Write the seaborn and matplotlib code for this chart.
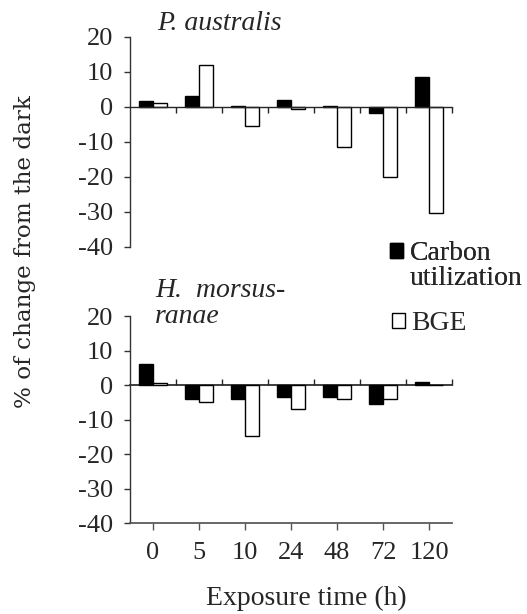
import matplotlib
matplotlib.use("Agg")
import matplotlib.pyplot as plt
import seaborn as sns
import pandas as pd
from matplotlib.patches import Patch

sns.set_theme(style="ticks")
plt.rcParams['font.family'] = ['Liberation Serif', 'DejaVu Serif']
plt.rcParams['axes.unicode_minus'] = False

times = ["0", "5", "10", "24", "48", "72", "120"]
series = ["Carbon utilization", "BGE"]
p_carbon = [1.5, 3.0, 0.2, 2.0, 0.2, -1.7, 8.5]
p_bge = [1.0, 12.0, -5.5, -0.7, -11.5, -20.0, -30.5]
h_carbon = [6.0, -4.0, -4.0, -3.5, -3.5, -5.5, 1.0]
h_bge = [0.7, -5.0, -14.8, -7.0, -4.0, -4.0, 0.0]
yticks = [20, 10, 0, -10, -20, -30, -40]

def frame(carbon, bge):
    return pd.DataFrame({
        "time": times * 2,
        "series": [series[0]] * len(times) + [series[1]] * len(times),
        "value": carbon + bge,
    })

palette = {series[0]: "black", series[1]: "white"}
FS = 19

fig = plt.figure(figsize=(5.27, 6.14), dpi=100)
ax1 = fig.add_axes([130/527, 1-246.7/614, 322/527, 210/614])
ax2 = fig.add_axes([130/527, 1-523/614, 322/527, 207/614])

for ax, (c, b) in ((ax1, (p_carbon, p_bge)), (ax2, (h_carbon, h_bge))):
    sns.barplot(data=frame(c, b), x="time", y="value", hue="series",
                palette=palette, order=times, hue_order=series,
                width=0.6, edgecolor="black", linewidth=1.0,
                legend=False, ax=ax)
    ax.set_xlim(-0.5, 6.5)
    ax.set_ylim(-40, 20)
    ax.set_yticks(yticks)
    ax.set_yticklabels([str(v) for v in yticks], fontsize=FS)
    ax.set_ylabel("")
    ax.set_xlabel("")
    ax.spines['right'].set_visible(False)
    ax.spines['top'].set_visible(False)
    ax.spines['left'].set_linewidth(1.0)
    ax.spines['left'].set_color("#333333")
    ax.tick_params(axis='y', direction='out', length=4, width=1.0, pad=8, color="#333333")
    ax.set_facecolor("none")

bounds = [i + 0.5 for i in range(len(times))]

# top panel: x axis along zero, boundary ticks, no labels
ax1.spines['bottom'].set_position(('data', 0))
ax1.spines['bottom'].set_linewidth(1.0)
ax1.set_xticks(bounds)
ax1.set_xticklabels([])
ax1.tick_params(axis='x', direction='out', length=4, width=1.0)

# bottom panel: labeled axis at -40 and a zero line with boundary ticks
ax2.set_xticks(range(len(times)))
ax2.set_xticklabels(times, fontsize=FS)
ax2.tick_params(axis='x', direction='out', length=5, width=1.0, pad=9, color="#555555")
ax2.spines['bottom'].set_color("#555555")
sec = ax2.secondary_xaxis(2/3)
sec.set_xticks(bounds)
sec.set_xticklabels([])
sec.tick_params(axis='x', direction='out', length=4, width=1.0)
sec.spines['bottom'].set_linewidth(1.0)

fig.text(157/527, 1-23/614, "P. australis", fontsize=20, style="italic", va="center", ha="left")
fig.text(155/527, 1-297/614, "H.  morsus-", fontsize=20, style="italic", va="baseline", ha="left")
fig.text(155/527, 1-323/614, "ranae", fontsize=20, style="italic", va="baseline", ha="left")

fig.text(25/527, 1-252/614, "% of change from the dark", rotation=90, fontsize=16.7,
         family=['DejaVu Serif'], va="center", ha="center")
fig.text(306/527, 1-598/614, "Exposure time (h)", fontsize=20, ha="center", va="center")

leg_kw = dict(frameon=False, fontsize=20, handlelength=0.45, handleheight=0.45,
              handletextpad=0.25, labelspacing=0.0, borderpad=0, borderaxespad=0,
              loc="upper left")
leg1 = fig.legend([Patch(facecolor="black", edgecolor="black"),
                   Patch(facecolor="none", edgecolor="none")],
                  ["Carbon", "utilization"], bbox_to_anchor=(390/527, 1-241/614), **leg_kw)
fig.add_artist(leg1)
fig.legend([Patch(facecolor="white", edgecolor="black")], ["BGE"],
           bbox_to_anchor=(392/527, 1-311/614), **leg_kw)

fig.savefig("out.png", dpi=100)
